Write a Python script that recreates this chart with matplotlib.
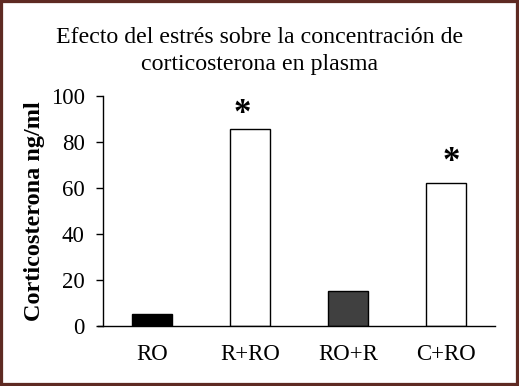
import numpy as np
import matplotlib
matplotlib.use('Agg')
from matplotlib import pyplot as plt
from matplotlib.patches import Rectangle

#%% DATOS

grupos = ['RO', 'R+RO', 'RO+R', 'C+RO']
cortico = [5.2, 85.6, 15.3, 62.3]
colores = ['#000000', '#ffffff', '#404040', '#ffffff']
signif = [False, True, False, True]

titulo = 'Efecto del estrés sobre la concentración de\ncorticosterona en plasma'
etiqueta_y = 'Corticosterona ng/ml'

# desplazamiento de los asteriscos (px)
ast_dx = [0, -8, 0, 5]
ast_dy = [0, -2, 0, 4]

#%% FIGURA

plt.rcParams['font.family'] = ['Liberation Serif', 'DejaVu Serif']

fig = plt.figure(figsize=(5.19, 3.86), dpi=100)
ax = fig.add_axes([98/519, 1-326/386, 397/519, 230/386])

x = np.arange(len(grupos))
ax.bar(x, cortico, width=0.4, color=colores, edgecolor='black', linewidth=1.0)

for i in range(len(grupos)):
    if signif[i]:
        ax.annotate('*', (x[i], cortico[i]), xytext=(ast_dx[i]*0.72, ast_dy[i]*0.72),
                    textcoords='offset points', ha='center', va='bottom',
                    fontsize=25, fontweight='bold')

ax.set_xlim(-0.55, 3.5)
ax.set_ylim(0, 100)
ax.set_yticks(np.arange(0, 101, 20))
ax.set_xticks(x)
ax.set_xticklabels(grupos)
ax.tick_params(axis='y', direction='out', length=5, width=1, labelsize=16.5, pad=8)
ax.tick_params(axis='x', length=0, labelsize=16.5, pad=13)
for s in ['top', 'right']:
    ax.spines[s].set_visible(False)
ax.spines['left'].set_position(('data', -0.5))
ax.spines['left'].set_linewidth(1)
ax.spines['bottom'].set_linewidth(1)

ax.set_ylabel(etiqueta_y, fontsize=17.5, fontweight='bold', labelpad=4)

fig.text(0.5, 1-27/386, titulo, ha='center', va='top', fontsize=17.2, linespacing=1.35)

# marco
fig.patches.append(Rectangle((0, 0), 1, 1, transform=fig.transFigure, fill=False,
                             edgecolor='#5e2a22', linewidth=4.5))

fig.savefig('out.png', dpi=100)
